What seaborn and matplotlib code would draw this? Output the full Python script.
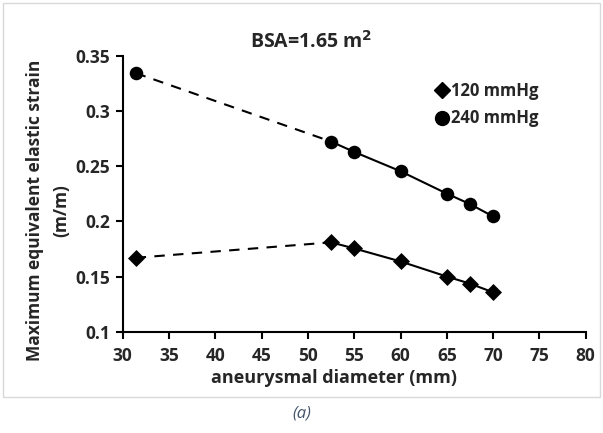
import matplotlib
matplotlib.use("Agg")
import matplotlib.pyplot as plt
from matplotlib.lines import Line2D
from matplotlib.patches import Rectangle
import seaborn as sns
import pandas as pd

# Aneurysmal diameters (mm) and maximum equivalent elastic strain (m/m)
diameter = [31.4, 52.5, 55, 60, 65, 67.5, 70]
strain_120 = [0.167, 0.181, 0.1755, 0.1637, 0.150, 0.1436, 0.1357]
strain_240 = [0.3345, 0.2724, 0.263, 0.2455, 0.2252, 0.2157, 0.2045]
series_labels = ["120 mmHg", "240 mmHg"]
x_ticks = [30, 35, 40, 45, 50, 55, 60, 65, 70, 75, 80]
y_ticks = [0.1, 0.15, 0.2, 0.25, 0.3, 0.35]
y_tick_labels = ["0.1", "0.15", "0.2", "0.25", "0.3", "0.35"]

sns.set_theme(style="white")
plt.rcParams["font.family"] = ["Open Sans", "DejaVu Sans"]
plt.rcParams["font.weight"] = "bold"

df = pd.DataFrame({
    "d": diameter * 2,
    "s": strain_120 + strain_240,
    "p": [series_labels[0]] * len(diameter) + [series_labels[1]] * len(diameter),
})

fig = plt.figure(figsize=(6.03, 4.33), dpi=100)
ax = fig.add_axes([0.2035, 0.234, 0.7678, 0.6367])

markers = {series_labels[0]: "D", series_labels[1]: "o"}
sizes = {series_labels[0]: 75, series_labels[1]: 95}
for lab in series_labels:
    sub = df[df["p"] == lab].reset_index(drop=True)
    # extrapolated segment to the smallest diameter is dashed
    sns.lineplot(data=sub.iloc[:2], x="d", y="s", ax=ax, color="black",
                 linestyle=(0, (5, 4)), linewidth=1.5, legend=False)
    sns.lineplot(data=sub.iloc[1:], x="d", y="s", ax=ax, color="black",
                 linewidth=1.5, legend=False)
    sns.scatterplot(data=sub, x="d", y="s", ax=ax, color="black",
                    marker=markers[lab], s=sizes[lab], edgecolor="black",
                    linewidth=0, zorder=5, legend=False)

ax.set_xlim(30, 80)
ax.set_ylim(0.1, 0.35)
ax.set_xticks(x_ticks)
ax.set_yticks(y_ticks)
ax.set_yticklabels(y_tick_labels)
for sp in ["top", "right"]:
    ax.spines[sp].set_visible(False)
for sp in ["left", "bottom"]:
    ax.spines[sp].set_color("black")
    ax.spines[sp].set_linewidth(1.5)
ax.tick_params(axis="both", direction="out", length=5, width=1.5,
               color="black", labelsize=12.5, left=True, bottom=True)
ax.tick_params(axis="x", pad=6)
ax.tick_params(axis="y", pad=4)
for t in ax.get_xticklabels() + ax.get_yticklabels():
    t.set_fontweight("bold")

ax.set_xlabel("aneurysmal diameter (mm)", fontsize=13, fontweight="bold")
ax.xaxis.set_label_coords(0.457, -0.135)
ax.set_ylabel("Maximum equivalent elastic strain\n(m/m)", fontsize=12.5,
              fontweight="bold", linespacing=1.55)
ax.yaxis.set_label_coords(-0.114, 0.44)

fig.text(0.516, 0.903, "BSA=1.65 m$^{\\mathbf{2}}$", ha="center", va="center",
         fontsize=14, fontweight="bold")

handles = [
    Line2D([], [], marker="D", color="black", linestyle="none", markersize=8.5),
    Line2D([], [], marker="o", color="black", linestyle="none", markersize=10),
]
fig.legend(handles, series_labels, loc="center left",
           bbox_to_anchor=(0.697, 0.758), frameon=False, handlelength=0.8,
           handletextpad=0.15, labelspacing=0.55, borderpad=0.4,
           prop={"weight": "bold", "size": 12})

# light border around the chart area and caption below it
fig.patches.append(Rectangle((3 / 603, 1 - 397 / 433), 597 / 603, 394 / 433,
                             transform=fig.transFigure, fill=False,
                             edgecolor="#d9d9d9", linewidth=1.0))
fig.text(0.5, 1 - 413 / 433, "(a)", ha="center", va="center", fontsize=12,
         style="italic", fontweight="normal", color="#44546a")

fig.savefig("out.png", dpi=100)
